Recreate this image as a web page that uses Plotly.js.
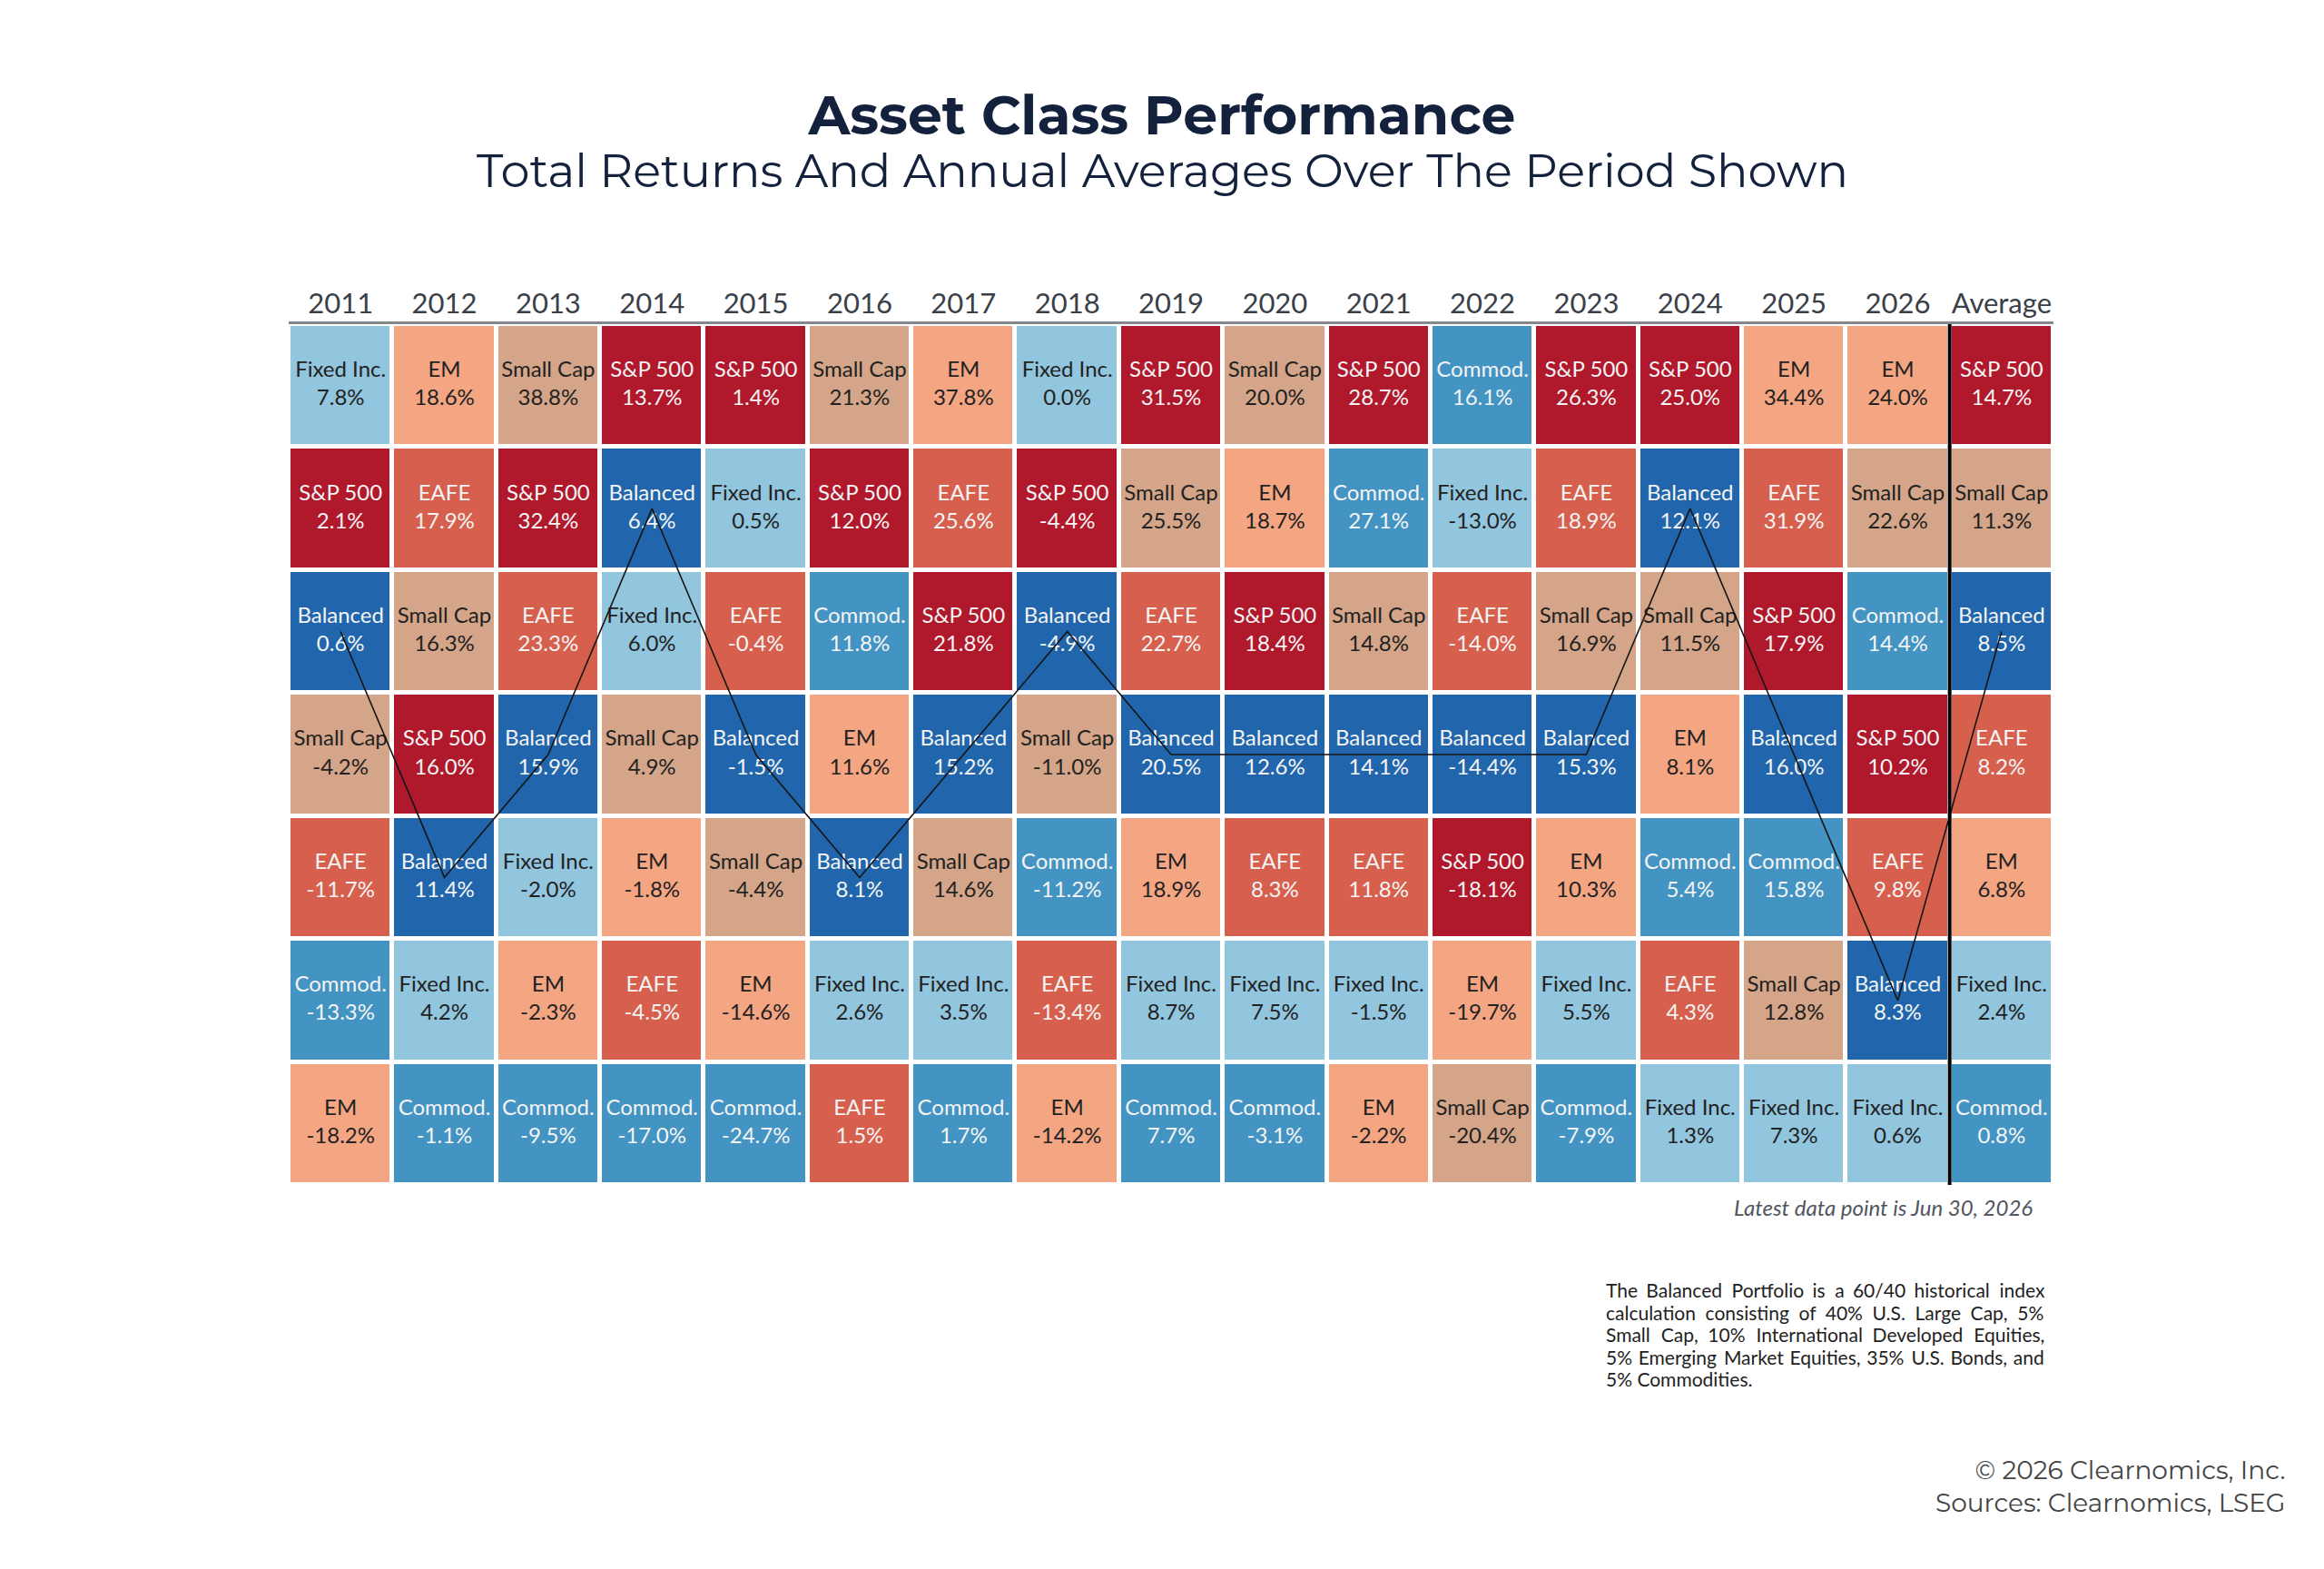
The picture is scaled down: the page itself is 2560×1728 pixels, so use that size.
<!DOCTYPE html>
<html>
<head>
<meta charset="utf-8">
<script src="https://cdn.plot.ly/plotly-3.0.1.min.js"></script>
<style>
  html, body { margin: 0; padding: 0; background: #ffffff; }
  #chart { width: 2560px; height: 1728px; }
</style>
</head>
<body>
<div id="chart"></div>
<script>
// ---- Data ----
const columns = ['2011','2012','2013','2014','2015','2016','2017','2018','2019','2020','2021','2022','2023','2024','2025','2026','Average'];

const assetClasses = ['S&P 500','EAFE','EM','Small Cap','Fixed Inc.','Commod.','Balanced'];
const assetColors  = ['#b0182b','#d6604d','#f4a582','#d4a588','#92c5de','#4393c3','#2166ac'];
const assetTextColors = ['#f4f4f4','#f4f4f4','#222222','#222222','#222222','#f4f4f4','#f4f4f4'];

const rank1Names  = ['Fixed Inc.','EM','Small Cap','S&P 500','S&P 500','Small Cap','EM','Fixed Inc.','S&P 500','Small Cap','S&P 500','Commod.','S&P 500','S&P 500','EM','EM','S&P 500'];
const rank1Values = [7.8,18.6,38.8,13.7,1.4,21.3,37.8,0.0,31.5,20.0,28.7,16.1,26.3,25.0,34.4,24.0,14.7];

const rank2Names  = ['S&P 500','EAFE','S&P 500','Balanced','Fixed Inc.','S&P 500','EAFE','S&P 500','Small Cap','EM','Commod.','Fixed Inc.','EAFE','Balanced','EAFE','Small Cap','Small Cap'];
const rank2Values = [2.1,17.9,32.4,6.4,0.5,12.0,25.6,-4.4,25.5,18.7,27.1,-13.0,18.9,12.1,31.9,22.6,11.3];

const rank3Names  = ['Balanced','Small Cap','EAFE','Fixed Inc.','EAFE','Commod.','S&P 500','Balanced','EAFE','S&P 500','Small Cap','EAFE','Small Cap','Small Cap','S&P 500','Commod.','Balanced'];
const rank3Values = [0.6,16.3,23.3,6.0,-0.4,11.8,21.8,-4.9,22.7,18.4,14.8,-14.0,16.9,11.5,17.9,14.4,8.5];

const rank4Names  = ['Small Cap','S&P 500','Balanced','Small Cap','Balanced','EM','Balanced','Small Cap','Balanced','Balanced','Balanced','Balanced','Balanced','EM','Balanced','S&P 500','EAFE'];
const rank4Values = [-4.2,16.0,15.9,4.9,-1.5,11.6,15.2,-11.0,20.5,12.6,14.1,-14.4,15.3,8.1,16.0,10.2,8.2];

const rank5Names  = ['EAFE','Balanced','Fixed Inc.','EM','Small Cap','Balanced','Small Cap','Commod.','EM','EAFE','EAFE','S&P 500','EM','Commod.','Commod.','EAFE','EM'];
const rank5Values = [-11.7,11.4,-2.0,-1.8,-4.4,8.1,14.6,-11.2,18.9,8.3,11.8,-18.1,10.3,5.4,15.8,9.8,6.8];

const rank6Names  = ['Commod.','Fixed Inc.','EM','EAFE','EM','Fixed Inc.','Fixed Inc.','EAFE','Fixed Inc.','Fixed Inc.','Fixed Inc.','EM','Fixed Inc.','EAFE','Small Cap','Balanced','Fixed Inc.'];
const rank6Values = [-13.3,4.2,-2.3,-4.5,-14.6,2.6,3.5,-13.4,8.7,7.5,-1.5,-19.7,5.5,4.3,12.8,8.3,2.4];

const rank7Names  = ['EM','Commod.','Commod.','Commod.','Commod.','EAFE','Commod.','EM','Commod.','Commod.','EM','Small Cap','Commod.','Fixed Inc.','Fixed Inc.','Fixed Inc.','Commod.'];
const rank7Values = [-18.2,-1.1,-9.5,-17.0,-24.7,1.5,1.7,-14.2,7.7,-3.1,-2.2,-20.4,-7.9,1.3,7.3,0.6,0.8];

const footnoteLines = [
  'The Balanced Portfolio is a 60/40 historical index',
  'calculation consisting of 40% U.S. Large Cap, 5%',
  'Small Cap, 10% International Developed Equities,',
  '5% Emerging Market Equities, 35% U.S. Bonds, and',
  '5% Commodities.'
];

// ---- Build ----
const rankNames  = [rank1Names, rank2Names, rank3Names, rank4Names, rank5Names, rank6Names, rank7Names];
const rankValues = [rank1Values, rank2Values, rank3Values, rank4Values, rank5Values, rank6Values, rank7Values];
const rowIdx = rankNames.map((_, i) => i);

const z = rankNames.map(row => row.map(n => assetClasses.indexOf(n)));
const nA = assetClasses.length;
const colorscale = [];
assetColors.forEach((c, i) => { colorscale.push([i / nA, c]); colorscale.push([(i + 1) / nA, c]); });

const tx = [], ty = [], tt = [], tc = [];
rankNames.forEach((row, r) => row.forEach((n, c) => {
  tx.push(columns[c]); ty.push(r);
  tt.push(n + '<br>' + rankValues[r][c].toFixed(1) + '%');
  tc.push(assetTextColors[assetClasses.indexOf(n)]);
}));

const balX = columns.slice();
const balY = columns.map((_, c) => rankNames.findIndex(row => row[c] === 'Balanced'));

const cellFont = 'Source Sans Pro, Lato, sans-serif';
const titleFont = 'Montserrat, Inter, sans-serif';

// footnote justification
const fnTarget = 483;
const cv = document.createElement('canvas').getContext('2d');
cv.font = '100px Lato';
const maxNat = Math.max(...footnoteLines.map(l => cv.measureText(l).width));
const fnSize = Math.min(21, fnTarget / maxNat * 100);
cv.font = fnSize + 'px Lato';
const hair = cv.measureText('\u200A').width || 1;
const justified = footnoteLines.map((l, i) => {
  if (i === footnoteLines.length - 1) return l;
  const words = l.split(' ');
  const extra = fnTarget - cv.measureText(l).width;
  if (extra <= 0 || words.length < 2) return l;
  const per = extra / (words.length - 1) / hair;
  let out = words[0], acc = 0;
  for (let k = 1; k < words.length; k++) {
    const want = Math.round(per * k) - acc; acc += want;
    out += ' ' + '\u200A'.repeat(Math.max(0, want)) + words[k];
  }
  return out;
});

const L = 318, R = 298, T = 357, B = 423, H = 1728, PH = H - T - B, PW = 2560 - L - R;
const py = yPix => (H - B - yPix) / PH;
const px = xPix => (xPix - L) / PW;

const annotations = [
  { text: 'Total Returns And Annual Averages Over The Period Shown', xref: 'paper', yref: 'paper',
    x: px(1280), y: py(188), xanchor: 'center', yanchor: 'middle', showarrow: false,
    font: { family: titleFont, size: 51, color: '#13213c' } },
  { text: '<i>Latest data point is Jun 30, 2026</i>', xref: 'paper', yref: 'paper',
    x: px(2241), y: py(1329), xanchor: 'right', yanchor: 'middle', showarrow: false,
    font: { family: cellFont, size: 24, color: '#50565e' } },
  { text: '© 2026 Clearnomics, Inc.<br>Sources: Clearnomics, LSEG', xref: 'paper', yref: 'paper',
    x: px(2519), y: py(1637), xanchor: 'right', yanchor: 'middle', align: 'right', showarrow: false,
    font: { family: titleFont, size: 28, color: '#444444' } }
];
const fnY = [1420, 1445, 1469, 1494, 1518];
justified.forEach((l, i) => annotations.push({
  text: l, xref: 'paper', yref: 'paper', x: px(1767), y: py(fnY[i]),
  xanchor: 'left', yanchor: 'middle', align: 'left', showarrow: false,
  font: { family: 'Lato, sans-serif', size: fnSize, color: '#1e1e1e' }
}));

const data = [
  { type: 'heatmap', x: columns, y: rowIdx, z: z, colorscale: colorscale,
    zmin: -0.5, zmax: nA - 0.5, showscale: false, xgap: 5, ygap: 5, hoverinfo: 'skip' },
  { type: 'scatter', mode: 'text', x: tx, y: ty, text: tt, textposition: 'middle center',
    textfont: { family: cellFont, size: 24, color: tc }, hoverinfo: 'skip', showlegend: false },
  { type: 'scatter', mode: 'lines', x: balX, y: balY,
    line: { color: '#151515', width: 1.6 }, hoverinfo: 'skip', showlegend: false }
];

const layout = {
  width: 2560, height: 1728,
  paper_bgcolor: '#ffffff', plot_bgcolor: '#ffffff',
  margin: { l: L, r: R, t: T, b: B },
  showlegend: false,
  title: { text: '<b>Asset Class Performance</b>', xref: 'container', yref: 'container',
    x: 0.5, y: 1 - 127 / H, xanchor: 'center', yanchor: 'middle',
    font: { family: titleFont, size: 60, color: '#13213c' } },
  xaxis: { type: 'category', side: 'top', showgrid: false, zeroline: false,
    showline: true, linecolor: '#84888d', linewidth: 3, ticks: '', ticklabelstandoff: -3,
    tickfont: { family: cellFont, size: 31, color: '#3a4048' },
    range: [-0.5, columns.length - 0.5], fixedrange: true },
  yaxis: { range: [rowIdx.length - 0.5, -0.5], visible: false, showgrid: false, zeroline: false,
    showticklabels: false, ticks: '', showline: false, fixedrange: true },
  shapes: [
    { type: 'line', xref: 'x', yref: 'paper', x0: columns.length - 1.5, x1: columns.length - 1.5,
      y0: 0, y1: 1, line: { color: '#000000', width: 4 }, layer: 'above' }
  ],
  annotations: annotations
};

Plotly.newPlot('chart', data, layout, { staticPlot: true, displayModeBar: false });
</script>
</body>
</html>
